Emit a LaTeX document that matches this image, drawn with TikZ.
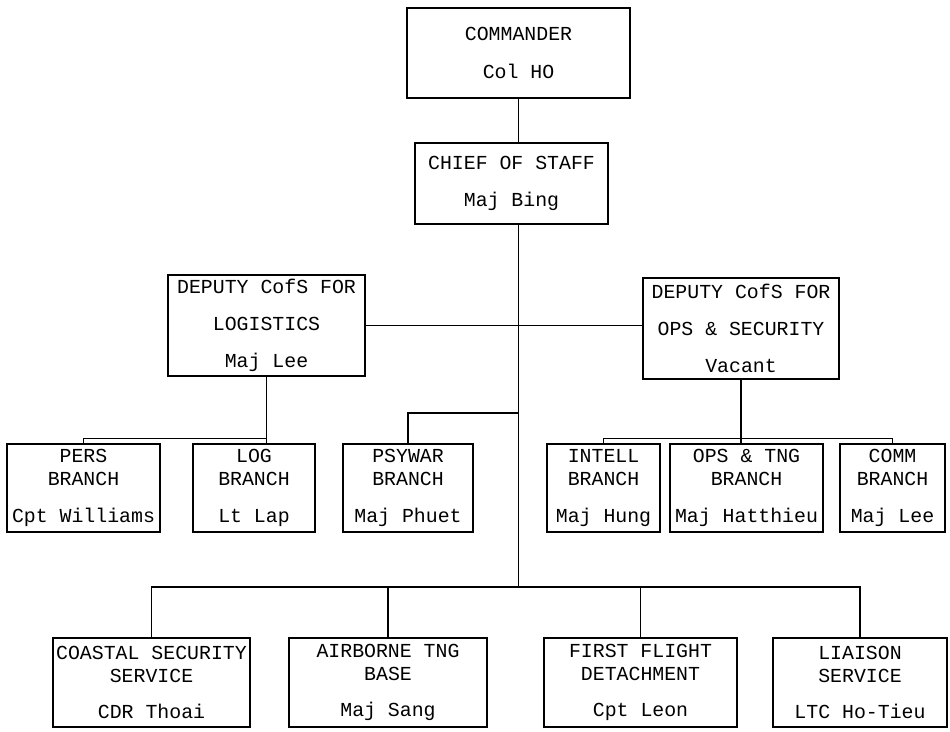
\documentclass[tikz,border=0pt]{standalone}
\usepackage{fontspec}
\setmonofont{Liberation Mono}
\usepackage{tikz}
\usetikzlibrary{positioning,calc}
\newcommand{\unitfont}{\fontsize{11.3}{13}\selectfont\ttfamily}

\begin{document}
\begin{tikzpicture}[
      unit/.style={draw, line width=1pt, inner sep=0pt, align=center, font=\unitfont},
      branch/.style={unit, minimum height=1.76cm},
      service/.style={unit, minimum height=1.78cm},
      link/.style={line width=1pt}
    ]
      \useasboundingbox (0,0) rectangle (19,-14.64);
      % command and staff
      \node[unit, minimum width=4.46cm, minimum height=1.8cm] (cmd) at (10.37,-1.06) {COMMANDER\\[9pt]Col HO};
      \node[unit, minimum width=3.86cm, minimum height=1.62cm] (cos) at (10.23,-3.67) {CHIEF OF STAFF\\[8pt]Maj Bing};
      \node[unit, minimum width=3.94cm, minimum height=2.02cm] (dl) at (5.33,-6.51) {DEPUTY CofS FOR\\[8pt]LOGISTICS\\[8pt]Maj Lee};
      \node[unit, minimum width=3.92cm, minimum height=2.02cm] (do) at (14.82,-6.57) {DEPUTY CofS FOR\\[8pt]OPS \& SECURITY\\[8pt]Vacant};
      % branches
      \node[branch, minimum width=3.06cm] (pers) at (1.67,-9.76) {PERS\\BRANCH\\[8pt]Cpt Williams};
      \node[branch, minimum width=2.44cm] (logb) at (5.08,-9.76) {LOG\\BRANCH\\[8pt]Lt Lap};
      \node[branch, minimum width=2.6cm] (psy) at (8.16,-9.76) {PSYWAR\\BRANCH\\[8pt]Maj Phuet};
      \node[branch, minimum width=2.26cm] (intel) at (12.07,-9.76) {INTELL\\BRANCH\\[8pt]Maj Hung};
      \node[branch, minimum width=3.06cm] (opst) at (14.93,-9.76) {OPS \& TNG\\BRANCH\\[8pt]Maj Hatthieu};
      \node[branch, minimum width=2.1cm] (comm) at (17.85,-9.76) {COMM\\BRANCH\\[8pt]Maj Lee};
      % services
      \node[service, minimum width=3.94cm] (cst) at (3.03,-13.65) {COASTAL SECURITY\\SERVICE\\[8pt]CDR Thoai};
      \node[service, minimum width=3.96cm] (abn) at (7.76,-13.65) {AIRBORNE TNG\\BASE\\[8pt]Maj Sang};
      \node[service, minimum width=3.86cm] (ffd) at (12.81,-13.65) {FIRST FLIGHT\\DETACHMENT\\[8pt]Cpt Leon};
      \node[service, minimum width=3.48cm] (lia) at (17.2,-13.65) {LIAISON\\SERVICE\\[8pt]LTC Ho-Tieu};

      \coordinate (lbus) at ($(dl.south)+(0,-1.23)$);
      \coordinate (obus) at ($(do.south)+(0,-1.17)$);
      \coordinate (pbus) at (10.37,-8.26);
      \coordinate (bbus) at (10.37,-11.74);

      \draw[link] (cmd.south) -- (cmd.south |- cos.north);
      \draw[link] (cmd.south |- cos.south) -- (bbus);
      \draw[link] (dl.east) -- (dl.east -| do.west);
      \draw[link] (dl.south) -- (dl.south |- logb.north);
      \draw[link] (pers.north) |- (lbus);
      \draw[link] (psy.north) |- (pbus);
      \draw[link] (do.south) -- (do.south |- opst.north);
      \draw[link] (intel.north) |- (obus) -| (comm.north);
      \draw[link] (cst.north) |- (bbus) -| (lia.north);
      \draw[link] (abn.north) -- (abn.north |- bbus);
      \draw[link] (ffd.north) -- (ffd.north |- bbus);
    \end{tikzpicture}
\end{document}
